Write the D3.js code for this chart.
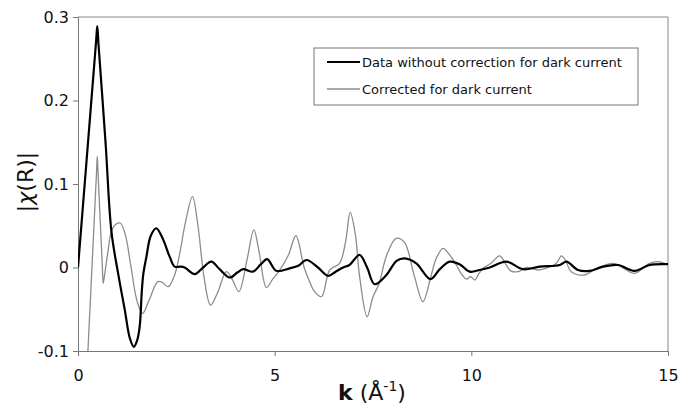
<!DOCTYPE html>
<html>
<head>
<meta charset="utf-8">
<script src="https://cdn.jsdelivr.net/npm/d3@7"></script>
<style>
  body { margin: 0; background: #fff; }
  svg { font-family: "DejaVu Sans", Verdana, sans-serif; }
</style>
</head>
<body>
<div id="chart"></div>
<script>
// values: k (1/Angstrom) and |chi(R)|
var kRaw = [0, 0.25, 0.46, 0.49, 0.52, 0.7, 0.85, 1.02, 1.19, 1.32, 1.42, 1.5, 1.57, 1.62, 1.66, 1.74, 1.85, 1.99, 2.15,
  2.33, 2.46, 2.6, 2.71, 2.97, 3.18, 3.39, 3.6, 3.86, 4.05, 4.2, 4.45, 4.65, 4.81, 5.04, 5.38, 5.6, 5.81, 6.1, 6.36,
  6.55, 6.74, 6.9, 7.16, 7.35, 7.54, 7.84, 8.1, 8.31, 8.6, 8.96, 9.2, 9.45, 9.7, 9.96, 10.21, 10.47, 10.89, 11.31,
  11.74, 12.25, 12.42, 12.71, 13.01, 13.35, 13.73, 14.15, 14.53, 14.96, 15];
var chiRaw = [0, 0.147, 0.271, 0.289, 0.268, 0.15, 0.043, -0.007, -0.051, -0.085, -0.095, -0.088, -0.07, -0.03,
  -0.008, 0.013, 0.038, 0.047, 0.035, 0.013, 0.001, 0.001, 0, -0.008, 0, 0.007, -0.002, -0.012, -0.006, -0.002,
  -0.005, 0.004, 0.01, -0.004, -0.001, 0.002, 0.009, 0, -0.01, -0.005, 0, 0.003, 0.015, 0, -0.02, -0.009, 0.008,
  0.011, 0.005, -0.014, -0.002, 0.007, 0.004, -0.005, -0.003, 0, 0.007, -0.002, 0.001, 0.003, 0.007, -0.003, -0.004,
  0.001, 0.003, -0.004, 0.003, 0.004, 0.004];

var kCorr = [0, 0.25, 0.47, 0.49, 0.51, 0.62, 0.64, 0.66, 0.75, 0.85, 0.97, 1.08, 1.2, 1.35, 1.5, 1.64, 1.8, 2.03,
  2.15, 2.29, 2.45, 2.6, 2.71, 2.91, 3.05, 3.2, 3.37, 3.55, 3.77, 3.9, 4.09, 4.3, 4.47, 4.6, 4.79, 4.95, 5.13, 5.35,
  5.54, 5.75, 5.89, 6.0, 6.19, 6.4, 6.65, 6.8, 6.92, 7.05, 7.16, 7.35, 7.5, 7.65, 7.85, 8.09, 8.3, 8.55, 8.77, 8.95,
  9.1, 9.28, 9.45, 9.62, 9.75, 9.88, 9.98, 10.09, 10.17, 10.3, 10.5, 10.72, 10.9, 11.0, 11.19, 11.4, 11.7, 11.95,
  12.16, 12.29, 12.4, 12.54, 12.88, 13.18, 13.6, 13.8, 14.15, 14.53, 14.75, 14.96, 15];
var chiCorr = [-0.34, -0.102, 0.113, 0.133, 0.113, 0.0, -0.019, -0.014, 0.015, 0.043, 0.052, 0.053, 0.04, 0, -0.04,
  -0.055, -0.04, -0.017, -0.018, -0.023, -0.01, 0.02, 0.049, 0.085, 0.05, -0.01, -0.045, -0.03, -0.005, -0.012,
  -0.029, 0.01, 0.045, 0.02, -0.024, -0.014, -0.003, 0.015, 0.038, 0, -0.017, -0.028, -0.035, -0.003, 0.005, 0.03,
  0.066, 0.04, -0.011, -0.059, -0.035, -0.02, 0.015, 0.035, 0.03, -0.01, -0.041, -0.015, 0.01, 0.023, 0.015, 0.003,
  -0.008, -0.014, -0.011, -0.015, -0.009, -0.001, 0.005, 0.014, 0.002, -0.004, -0.005, 0, -0.003, 0, 0.005, 0.014,
  0.008, -0.005, -0.009, -0.001, 0.005, 0.001, -0.007, 0.005, 0.007, 0.004, 0.004];

var xTicks = [0, 5, 10, 15];
var yTicks = [-0.1, 0, 0.1, 0.2, 0.3];
var yTickLabels = ["-0.1", "0", "0.1", "0.2", "0.3"];
var seriesNames = ["Data without correction for dark current", "Corrected for dark current"];
var seriesColors = ["#000000", "#8c8c8c"];
var seriesWidths = [2.2, 1.3];

var width = 680, height = 407;
var margin = {top: 17, right: 12, bottom: 56, left: 78};

var svg = d3.select("#chart").append("svg")
    .attr("width", width)
    .attr("height", height);

var x = d3.scaleLinear().domain([0, 15]).range([margin.left, width - margin.right]);
var y = d3.scaleLinear().domain([-0.1, 0.3]).range([height - margin.bottom, margin.top]);

// clip so the corrected curve is cut at the bottom axis
svg.append("clipPath").attr("id", "plotclip")
  .append("rect")
    .attr("x", x(0)).attr("y", y(0.3))
    .attr("width", x(15) - x(0)).attr("height", y(-0.1) - y(0.3));

// plot frame (top and right)
svg.append("path")
    .attr("d", "M" + x(0) + "," + y(0.3) + "H" + x(15) + "V" + y(-0.1))
    .attr("fill", "none")
    .attr("stroke", "#888")
    .attr("stroke-width", 1);

var xAxis = svg.append("g")
    .attr("transform", "translate(0," + y(-0.1) + ")")
    .call(d3.axisBottom(x).tickValues(xTicks).tickFormat(d3.format("d")).tickSize(5).tickPadding(14));

var yAxis = svg.append("g")
    .attr("transform", "translate(" + x(0) + ",0)")
    .call(d3.axisLeft(y).tickValues(yTicks)
        .tickFormat(function(d, i){ return yTickLabels[i]; })
        .tickSize(5).tickPadding(4));

[xAxis, yAxis].forEach(function(a){
    a.selectAll("path, line").attr("stroke", "#777");
    a.selectAll("text").attr("font-size", "16px").attr("fill", "#111")
        .attr("font-family", "DejaVu Sans, Verdana, sans-serif");
});

var line = d3.line()
    .x(function(d){ return x(d[0]); })
    .y(function(d){ return y(d[1]); })
    .curve(d3.curveCatmullRom.alpha(0.5));

var series = [d3.zip(kRaw, chiRaw), d3.zip(kCorr, chiCorr)];

// corrected drawn first so the black curve sits on top
[1, 0].forEach(function(i){
    svg.append("path")
        .datum(series[i])
        .attr("clip-path", "url(#plotclip)")
        .attr("d", line)
        .attr("fill", "none")
        .attr("stroke", seriesColors[i])
        .attr("stroke-width", seriesWidths[i])
        .attr("stroke-linejoin", "round");
});

// legend
var legend = svg.append("g").attr("transform", "translate(314,48)");
legend.append("rect")
    .attr("width", 324).attr("height", 57)
    .attr("fill", "#fff").attr("stroke", "#777").attr("stroke-width", 1);
seriesNames.forEach(function(name, i){
    var row = legend.append("g").attr("transform", "translate(0," + (14 + i * 27) + ")");
    row.append("line")
        .attr("x1", 13).attr("x2", 46).attr("y1", 0).attr("y2", 0)
        .attr("stroke", seriesColors[i]).attr("stroke-width", seriesWidths[i]);
    row.append("text")
        .attr("x", 48).attr("dy", "0.35em")
        .attr("font-size", "13px").attr("fill", "#111")
        .text(name);
});

// axis titles
var xt = svg.append("text")
    .attr("x", 372).attr("y", 400)
    .attr("text-anchor", "middle")
    .attr("font-size", "22px").attr("fill", "#111");
xt.append("tspan").attr("font-weight", "bold").text("k");
xt.append("tspan").text(" (Å");
xt.append("tspan").attr("font-size", "14px").attr("dy", "-9").text("-1");
xt.append("tspan").attr("dy", "9").text(")");

var yt = svg.append("text")
    .attr("transform", "translate(33,182) rotate(-90)")
    .attr("text-anchor", "middle")
    .attr("font-size", "22px").attr("fill", "#111");
yt.append("tspan").text("|");
yt.append("tspan").attr("font-style", "italic").text("χ");
yt.append("tspan").text("(R)|");
</script>
</body>
</html>
